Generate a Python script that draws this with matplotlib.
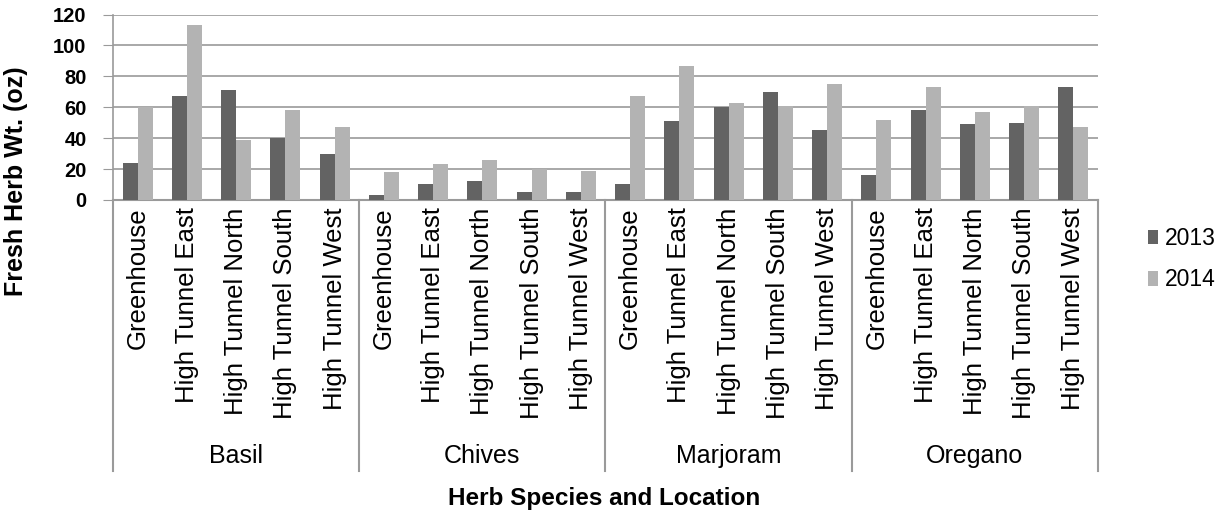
import matplotlib.pyplot as plt
import numpy as np

plt.rcParams['font.family'] = ['Liberation Sans', 'DejaVu Sans']

# --- data ---
species = ["Basil", "Chives", "Marjoram", "Oregano"]
locations = ["Greenhouse", "High Tunnel East", "High Tunnel North",
             "High Tunnel South", "High Tunnel West"]
years = ["2013", "2014"]

wt_2013 = [24, 67, 71, 40, 30,
           3, 10, 12, 5, 5,
           10, 51, 60, 70, 45,
           16, 58, 49, 50, 73]
wt_2014 = [60, 113, 39, 58, 47,
           18, 23, 26, 20, 19,
           67, 87, 63, 61, 75,
           52, 73, 57, 61, 47]

dark = "#636363"
light = "#b3b3b3"
axis_grey = "#9a9a9a"

fig = plt.figure(figsize=(12.19, 5.18), dpi=100)
ax = fig.add_axes([0.0927, 0.614, 0.808, 0.358])

n = len(wt_2013)
x = np.arange(n)
w = 0.305
ax.bar(x - w / 2, wt_2013, w, color=dark, label=years[0], zorder=3)
ax.bar(x + w / 2, wt_2014, w, color=light, label=years[1], zorder=3)

ax.set_xlim(-0.5, n - 0.5)
ax.set_ylim(0, 120)
ax.set_yticks(range(0, 121, 20))
ax.yaxis.grid(True, color=axis_grey, linewidth=1.2, zorder=0)
ax.tick_params(axis='y', labelsize=14.5, length=7, color=axis_grey, pad=12)
for lab in ax.get_yticklabels():
    lab.set_fontweight('bold')
ax.set_xticks([])
for side in ["top", "right"]:
    ax.spines[side].set_visible(False)
ax.spines["left"].set_color(axis_grey)
ax.spines["bottom"].set_color(axis_grey)
ax.spines["left"].set_linewidth(1.2)
ax.spines["bottom"].set_linewidth(1.5)

trans = ax.get_xaxis_transform()
# location labels
for i in range(n):
    ax.text(x[i], -0.04, locations[i % len(locations)], transform=trans,
            rotation=90, ha='center', va='top', fontsize=18.5)
# group separators and species labels
k = len(locations)
for g in range(len(species) + 1):
    ax.plot([g * k - 0.5, g * k - 0.5], [0, -1.46], transform=trans,
            color=axis_grey, linewidth=1.5, clip_on=False)
for g, name in enumerate(species):
    ax.text(g * k + (k - 1) / 2, -1.38, name, transform=trans,
            ha='center', va='center', fontsize=18)

ax.set_ylabel("Fresh Herb Wt. (oz)", fontsize=18, fontweight='bold')
ax.yaxis.set_label_coords(-0.086, 0.10)
fig.text(0.496, 0.038, "Herb Species and Location", ha='center', va='center',
         fontsize=17.5, fontweight='bold')

ax.legend(loc='center left', bbox_to_anchor=(1.03, -0.32), frameon=False,
          fontsize=16.5, handlelength=0.45, handleheight=0.6, handletextpad=0.3,
          labelspacing=0.8)

fig.savefig("out.png", dpi=100)
